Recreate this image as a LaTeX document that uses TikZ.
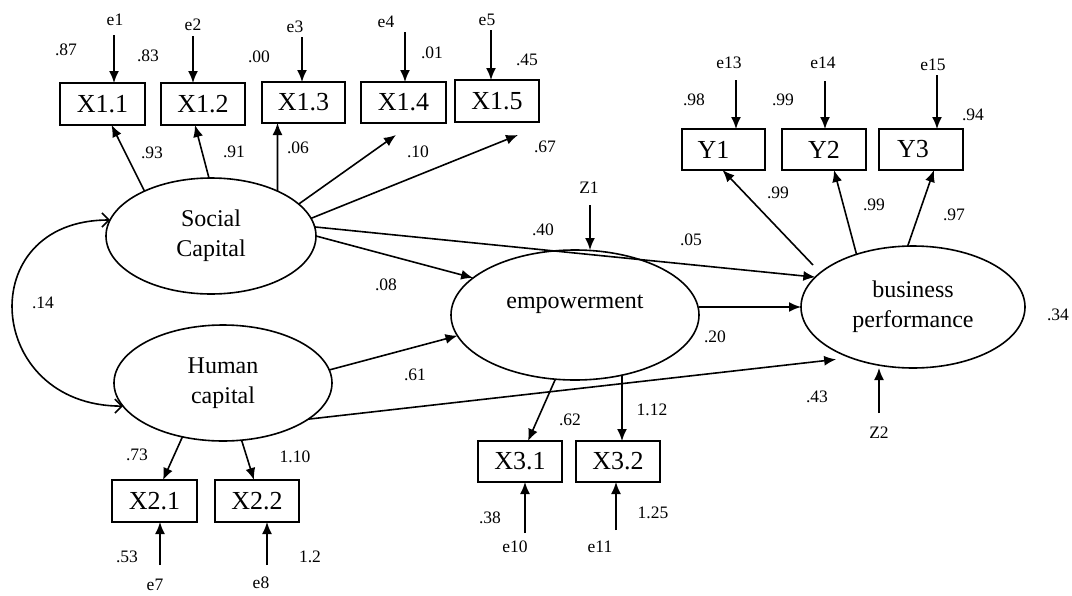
\documentclass[tikz,border=0pt]{standalone}
\usepackage{fontspec}
\setmainfont{Liberation Serif}
\usetikzlibrary{shapes.geometric,arrows.meta}
\begin{document}
\begin{tikzpicture}[x=1pt,y=-1pt,
  lat/.style={ellipse, draw, line width=1.6pt, inner sep=0pt, outer sep=0pt, align=center, font=\fontsize{24}{30}\selectfont},
  ltext/.style={inner sep=0pt, font=\fontsize{24}{30}\selectfont},
  obs/.style={rectangle, draw, line width=1.2pt, inner sep=0pt, outer sep=0pt, font=\fontsize{26}{28}\selectfont},
  val/.style={inner sep=1pt, font=\fontsize{17.5}{20}\selectfont},
  arr/.style={line width=1.6pt, -{Latex[length=12pt,width=10pt]}},
  cov/.style={line width=1.6pt, {Straight Barb[length=7pt,width=14pt]}-{Straight Barb[length=7pt,width=14pt]}}]
\useasboundingbox[fill=white] (0,0) rectangle (1072,595);

% latent variables
\node[lat, minimum width=210pt, minimum height=116pt] (SC) at (211,236) {Social\\Capital};
\node[lat, minimum width=218pt, minimum height=116pt] (HC) at (223,383) {Human\\capital};
\node[lat, minimum width=248pt, minimum height=130pt] (EMP) at (575,315) {};
\node[ltext] (EMPt) at (575,304) {empowerment};
\node[lat, minimum width=224pt, minimum height=122pt] (BP) at (913,307) {business\\performance};

% observed variables
\node[obs, minimum width=85pt, minimum height=42pt] (X11) at (102.5,104) {X1.1};
\node[obs, minimum width=84pt, minimum height=42pt] (X12) at (203,104) {X1.2};
\node[obs, minimum width=83pt, minimum height=41pt] (X13) at (303.5,102.5) {X1.3};
\node[obs, minimum width=85pt, minimum height=41pt] (X14) at (403.5,102.5) {X1.4};
\node[obs, minimum width=84pt, minimum height=42pt] (X15) at (497,101) {X1.5};
\node[obs, minimum width=83pt, minimum height=41pt] (Y1) at (723.5,149.5) {Y1\hspace*{20pt}};
\node[obs, minimum width=84pt, minimum height=41pt] (Y2) at (824,149.5) {Y2};
\node[obs, minimum width=84pt, minimum height=41pt] (Y3) at (921,149.5) {Y3\hspace*{16pt}};
\node[obs, minimum width=85pt, minimum height=42pt] (X21) at (154.5,501) {X2.1};
\node[obs, minimum width=84pt, minimum height=42pt] (X22) at (257,501) {X2.2};
\node[obs, minimum width=84pt, minimum height=41pt] (X31) at (520,461.5) {X3.1};
\node[obs, minimum width=84pt, minimum height=41pt] (X32) at (618,461.5) {X3.2};

% error terms
\node[val] (e1) at (115,20) {e1};
\node[val] (e2) at (193,25) {e2};
\node[val] (e3) at (295,27) {e3};
\node[val] (e4) at (386,22) {e4};
\node[val] (e5) at (487,20) {e5};
\node[val] (e13) at (729,63) {e13};
\node[val] (e14) at (823,63) {e14};
\node[val] (e15) at (933,65) {e15};
\node[val] (Z1) at (589,188) {Z1};
\node[val] (Z2) at (879,433) {Z2};
\node[val] (e7) at (155,585) {e7};
\node[val] (e8) at (261,583) {e8};
\node[val] (e10) at (515,547) {e10};
\node[val] (e11) at (600,547) {e11};

\coordinate (a1) at (114,35);
\coordinate (a2) at (193,36);
\coordinate (a3) at (302,37);
\coordinate (a4) at (405,32);
\coordinate (a5) at (491,30);
\coordinate (a13) at (736,80);
\coordinate (a14) at (825,81);
\coordinate (a15) at (937,75);
\coordinate (az1) at (590,205);
\coordinate (az2) at (879,413);
\coordinate (a7) at (160,565);
\coordinate (a8) at (267,565);
\coordinate (a10) at (525,533);
\coordinate (a11) at (616,530);

\draw[arr] (a1) -- (a1 |- X11.north);
\draw[arr] (a2) -- (a2 |- X12.north);
\draw[arr] (a3) -- (a3 |- X13.north);
\draw[arr] (a4) -- (a4 |- X14.north);
\draw[arr] (a5) -- (a5 |- X15.north);
\draw[arr] (a13) -- (a13 |- Y1.north);
\draw[arr] (a14) -- (a14 |- Y2.north);
\draw[arr] (a15) -- (a15 |- Y3.north);
\draw[arr] (az1) -- (az1 |- EMP.north);
\draw[arr] (az2) -- (az2 |- BP.south);
\draw[arr] (a7) -- (a7 |- X21.south);
\draw[arr] (a8) -- (a8 |- X22.south);
\draw[arr] (a10) -- (a10 |- X31.south);
\draw[arr] (a11) -- (a11 |- X32.south);

% loadings
\draw[arr] (SC.146) -- ([xshift=9pt]X11.south);
\draw[arr] (SC.92) -- ([xshift=-8pt]X12.south);
\draw[arr] (SC.34) -- ([xshift=-26pt]X13.south);
\draw[arr] (SC.20) -- ([xshift=-7.5pt,yshift=-12pt]X14.south);
\draw[arr] (SC.10) -- ([xshift=21pt,yshift=-13pt]X15.south);
\draw[arr] (HC.233.5) -- ([xshift=8.5pt]X21.north);
\draw[arr] (HC.288) -- ([xshift=-3pt]X22.north);
\draw[arr] (EMP.253) -- ([xshift=8pt]X31.north);
\draw[arr] (EMP.308) -- ([xshift=4pt]X32.north);
\draw[arr] ([xshift=-100pt,yshift=42pt]BP.center) -- ([xshift=-1pt]Y1.south);
\draw[arr] (BP.137) -- ([xshift=10pt]Y2.south);
\draw[arr] (BP.95) -- ([xshift=13pt]Y3.south);

% structural paths
\draw[arr] (SC.5) -- (BP.163);
\draw[arr] (SC.east) -- (EMP.160);
\draw[arr] (HC.7) -- (EMP.190);
\draw[arr] (HC.337) -- ([yshift=-8pt]BP.210);
\draw[arr] (BP.west -| EMP.east) -- (BP.west);
\draw[cov] (SC.171) to[out=180,in=180,looseness=1.9] (HC.193);

% coefficients
\node[val] (v87) at (66,50) {.87};
\node[val] (v83) at (148,56) {.83};
\node[val] (v00) at (259,57) {.00};
\node[val] (v01) at (432,53) {.01};
\node[val] (v45) at (527,60) {.45};
\node[val] (v93) at (152,153) {.93};
\node[val] (v91) at (234,152) {.91};
\node[val] (v06) at (298,148) {.06};
\node[val] (v10) at (418,152) {.10};
\node[val] (v67) at (545,147) {.67};
\node[val] (v98) at (694,100) {.98};
\node[val] (v99a) at (783,100) {.99};
\node[val] (v94) at (973,115) {.94};
\node[val] (v99b) at (778,193) {.99};
\node[val] (v99c) at (874,205) {.99};
\node[val] (v97) at (954,215) {.97};
\node[val] (v40) at (543,230) {.40};
\node[val] (v05) at (691,240) {.05};
\node[val] (v08) at (386,285) {.08};
\node[val] (v14) at (43,303) {.14};
\node[val] (v61) at (415,375) {.61};
\node[val] (v20) at (715,337) {.20};
\node[val] (v43) at (817,397) {.43};
\node[val] (v34) at (1058,315) {.34};
\node[val] (v73) at (137,455) {.73};
\node[val] (v110) at (295,457) {1.10};
\node[val] (v53) at (127,557) {.53};
\node[val] (v12) at (310,557) {1.2};
\node[val] (v62) at (570,420) {.62};
\node[val] (v112) at (652,410) {1.12};
\node[val] (v38) at (490,518) {.38};
\node[val] (v125) at (653,513) {1.25};
\end{tikzpicture}
\end{document}
